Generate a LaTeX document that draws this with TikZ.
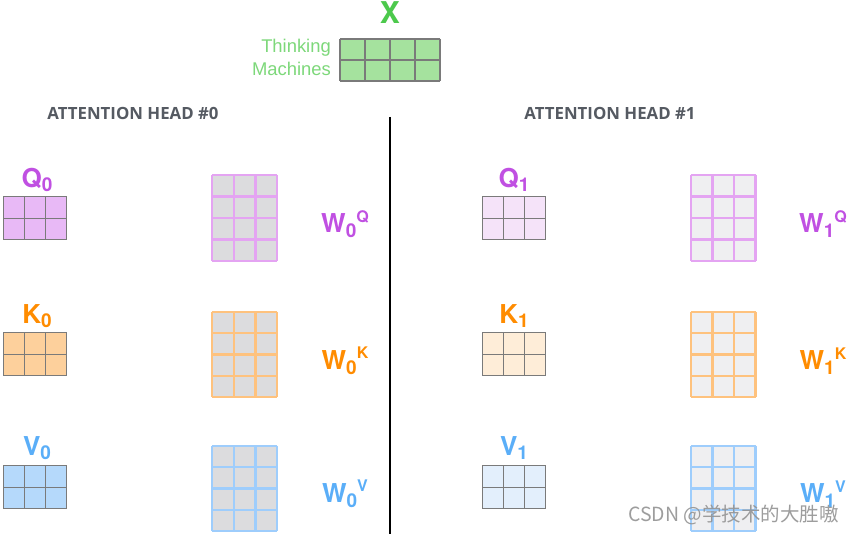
\documentclass[tikz,border=0pt]{standalone}
\usepackage{fontspec}
\setmainfont{TeX Gyre Heros}
\newfontfamily\headfont{Open Sans}
\newfontfamily\lightfont{Liberation Sans}
\newfontfamily\cjkfont{Noto Sans CJK SC}

\definecolor{xgreen}{HTML}{4CC94C}
\definecolor{xgreenlt}{HTML}{7DD87A}
\definecolor{xfill}{HTML}{A5E29E}
\definecolor{qtext}{HTML}{C050E2}
\definecolor{qfillA}{HTML}{E8B9F6}
\definecolor{qfillB}{HTML}{F5E3F9}
\definecolor{qline}{HTML}{E4A4F2}
\definecolor{ktext}{HTML}{FF8C00}
\definecolor{kfillA}{HTML}{FDD09C}
\definecolor{kfillB}{HTML}{FEEDD8}
\definecolor{kline}{HTML}{FEC27E}
\definecolor{vtext}{HTML}{5AAEF8}
\definecolor{vfillA}{HTML}{B5D9FB}
\definecolor{vfillB}{HTML}{E3EFFC}
\definecolor{vline}{HTML}{9ECDFC}
\definecolor{wgrayA}{HTML}{DCDCDE}
\definecolor{wgrayB}{HTML}{EFEFF1}
\definecolor{gridgray}{HTML}{7A7A7A}
\definecolor{headgray}{HTML}{555A62}

% grid matrix: x, y, cols, rows, cell width, cell height, fill, line colour, line width
\newcommand{\gridmat}[9]{%
  \fill[#7] (#1,#2) rectangle ++(#3*#5,#4*#6);
  \foreach \c in {0,...,#3} {\draw[#8,line width=#9] (#1+\c*#5,#2) -- ++(0,#4*#6);}
  \foreach \r in {0,...,#4} {\draw[#8,line width=#9] (#1,#2+\r*#6) -- ++(#3*#5,0);}
}
% matrix name with lowered index
\newcommand{\mname}[2]{\textbf{#1\raisebox{-.16em}{\fontsize{19}{19}\selectfont #2}}}
% weight name with lowered index and raised tag
\newcommand{\wname}[2]{\textbf{W\raisebox{-.2em}{\fontsize{19}{19}\selectfont #1}\raisebox{.40em}{\fontsize{16}{16}\selectfont #2}}}

\tikzset{
  mlabel/.style={inner sep=0pt,font=\fontsize{26}{26}\selectfont},
  headlabel/.style={inner sep=0pt,text=headgray,font=\headfont\bfseries\fontsize{16.8}{16.8}\selectfont},
}

\begin{document}
\begin{tikzpicture}[x=1pt,y=-1pt]
\useasboundingbox (0,0) rectangle (855,534);
\fill[white] (0,0) rectangle (855,534);

% input X
\node[mlabel,text=xgreen,font=\bfseries\fontsize{30}{30}\selectfont] (xlbl) at (390,13) {X};
\node[inner sep=0pt,anchor=east,text=xgreenlt,font=\lightfont\fontsize{18.4}{18.4}\selectfont] (w1) at (331,48) {Thinking};
\node[inner sep=0pt,anchor=east,text=xgreenlt,font=\lightfont\fontsize{18.4}{18.4}\selectfont] (w2) at (331,69) {Machines};
\gridmat{340}{39}{4}{2}{25}{21}{xfill}{gridgray}{1.1pt}

% divider between heads
\draw[black,line width=1.2pt] (390,117) coordinate (divtop) -- (390,534) coordinate (divbot);

% head titles
\node[headlabel] (h0) at (133,113) {ATTENTION HEAD \#0};
\node[headlabel] (h1) at (610,113) {ATTENTION HEAD \#1};

% head 0
\node[mlabel,text=qtext] (q0) at (37,180) {\mname{Q}{0}};
\gridmat{3}{197}{3}{2}{21.3}{21.5}{qfillA}{gridgray}{1pt}
\gridmat{212}{175}{3}{4}{21.7}{21.5}{wgrayA}{qline}{2.2pt}
\node[mlabel,text=qtext] (wq0) at (345,224) {\wname{0}{Q}};

\node[mlabel,text=ktext] (k0) at (37,316) {\mname{K}{0}};
\gridmat{3}{333}{3}{2}{21.3}{21.5}{kfillA}{gridgray}{1pt}
\gridmat{212}{312}{3}{4}{21.7}{21.3}{wgrayA}{kline}{2.2pt}
\node[mlabel,text=ktext] (wk0) at (345,361) {\wname{0}{K}};

\node[mlabel,text=vtext] (v0) at (37,448) {\mname{V}{0}};
\gridmat{3}{466}{3}{2}{21.3}{21.5}{vfillA}{gridgray}{1pt}
\gridmat{212}{446}{3}{4}{21.7}{21.3}{wgrayA}{vline}{2.2pt}
\node[mlabel,text=vtext] (wv0) at (345,494) {\wname{0}{V}};

% head 1
\node[mlabel,text=qtext] (q1) at (514,180) {\mname{Q}{1}};
\gridmat{482}{197}{3}{2}{21.3}{21.5}{qfillB}{gridgray}{1pt}
\gridmat{691}{175}{3}{4}{21.5}{21.5}{wgrayB}{qline}{2.2pt}
\node[mlabel,text=qtext] (wq1) at (823,224) {\wname{1}{Q}};

\node[mlabel,text=ktext] (k1) at (514,316) {\mname{K}{1}};
\gridmat{482}{333}{3}{2}{21.3}{21.5}{kfillB}{gridgray}{1pt}
\gridmat{691}{312}{3}{4}{21.5}{21.3}{wgrayB}{kline}{2.2pt}
\node[mlabel,text=ktext] (wk1) at (823,361) {\wname{1}{K}};

\node[mlabel,text=vtext] (v1) at (514,448) {\mname{V}{1}};
\gridmat{482}{466}{3}{2}{21.3}{21.5}{vfillB}{gridgray}{1pt}
\gridmat{691}{446}{3}{4}{21.5}{21.3}{wgrayB}{vline}{2.2pt}
\node[mlabel,text=vtext] (wv1) at (823,494) {\wname{1}{V}};

% signature
\node[inner sep=0pt,anchor=west,text=gray!85,opacity=0.9,font=\cjkfont\fontsize{19.5}{19.5}\selectfont] (sig) at (628,515) {CSDN @学技术的大胜嗷};
\end{tikzpicture}
\end{document}
